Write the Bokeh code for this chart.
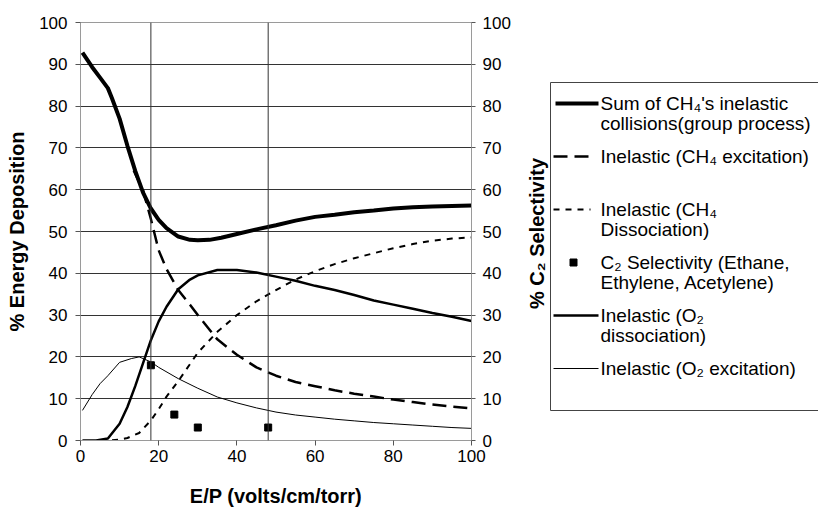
import math
from bokeh.plotting import figure
from bokeh.models import LinearAxis, FixedTicker, Range1d, Span
from bokeh.layouts import row
from bokeh.core.properties import value
from bokeh.embed import file_html
from bokeh.resources import INLINE

FONT = "Liberation Sans"

# ---------------- data ----------------
sum_x = [0.5, 3, 5, 7, 8, 10, 12, 14, 16, 18, 20, 22, 25, 28, 30, 33, 36, 40, 45, 50,
         55, 60, 65, 70, 75, 80, 85, 90, 95, 100]
sum_y = [92.8, 89.3, 86.8, 84.3, 82.0, 77.0, 70.5, 64.5, 59.3, 55.5, 52.8, 50.8, 48.8, 48.0,
         47.9, 48.0, 48.5, 49.4, 50.5, 51.5, 52.6, 53.5, 54.0, 54.6, 55.0, 55.5, 55.8, 56.0,
         56.1, 56.2]

ch4_exc_x = [13.6, 16, 18, 20, 22, 25, 28, 30, 35, 40, 45, 50, 55, 60, 65, 70, 75, 80, 85,
             90, 95, 100]
ch4_exc_y = [64.6, 59.8, 53.0, 45.5, 41.0, 36.0, 32.5, 30.0, 24.2, 20.5, 17.5, 15.5, 14.0,
             13.0, 12.0, 11.2, 10.5, 9.8, 9.2, 8.6, 8.1, 7.7]

ch4_dis_x = [5, 7, 10, 12, 15, 18, 20, 22, 25, 30, 35, 40, 45, 50, 55, 60, 65, 70, 75, 80,
             85, 90, 95, 100]
ch4_dis_y = [0.0, 0.0, 0.2, 0.6, 1.8, 4.8, 7.5, 10.5, 14.2, 21.0, 26.0, 30.0, 33.3, 36.0,
             38.5, 40.5, 42.2, 43.6, 44.8, 46.0, 47.0, 47.8, 48.3, 48.6]

o2_dis_x = [0.5, 4, 7, 10, 12, 14, 16, 18, 20, 22, 25, 28, 30, 35, 40, 45, 50, 55, 60, 65,
            70, 75, 80, 85, 90, 95, 100]
o2_dis_y = [0.0, 0.0, 0.5, 4.0, 8.0, 13.0, 18.5, 24.0, 28.5, 32.0, 36.2, 38.5, 39.5, 40.8,
            40.8, 40.2, 39.2, 38.2, 37.0, 36.0, 34.8, 33.5, 32.5, 31.5, 30.5, 29.6, 28.6]

o2_exc_x = [0.5, 3, 5, 7, 10, 13, 15, 18, 20, 25, 30, 35, 40, 45, 50, 55, 60, 65, 70, 75,
            80, 85, 90, 95, 100]
o2_exc_y = [7.2, 11.0, 13.6, 15.5, 18.7, 19.6, 20.0, 18.8, 17.5, 14.8, 12.5, 10.4, 9.0, 7.8,
            6.8, 6.1, 5.6, 5.1, 4.7, 4.3, 4.0, 3.7, 3.4, 3.1, 2.9]

sel_x = [18, 24, 30, 48]
sel_y = [18.0, 6.2, 3.1, 3.1]

marker_lines = [18, 48]
x_ticks = [0, 20, 40, 60, 80, 100]
y_ticks = [0, 10, 20, 30, 40, 50, 60, 70, 80, 90, 100]
grid_ticks = [10, 20, 30, 40, 50, 60, 70, 80, 90]

x_title = "E/P (volts/cm/torr)"
y_title = "% Energy Deposition"
y2_title = "% C\u2082 Selectivity"

legend_rows = [
    ["Sum of CH\u2084's inelastic", "collisions(group process)"],
    ["Inelastic (CH\u2084 excitation)"],
    ["Inelastic (CH\u2084", "Dissociation)"],
    ["C\u2082 Selectivity (Ethane,", "Ethylene, Acetylene)"],
    ["Inelastic (O\u2082", "dissociation)"],
    ["Inelastic (O\u2082 excitation)"],
]

# ---------------- layout constants (page pixels) ----------------
W_MAIN, W_LEG, H = 520, 298, 509
FRAME_L, FRAME_R, FRAME_T, FRAME_B = 80, 471, 22, 440

# ---------------- main figure ----------------
p = figure(width=W_MAIN, height=H, x_range=Range1d(0, 100), y_range=Range1d(0, 100),
           output_backend="svg", toolbar_location=None,
           min_border_left=FRAME_L, min_border_right=W_MAIN - FRAME_R,
           min_border_top=FRAME_T, min_border_bottom=H - FRAME_B)
p.background_fill_color = "white"
p.border_fill_color = "white"
p.outline_line_color = "#9a9a9a"
p.xgrid.visible = False
p.ygrid.ticker = FixedTicker(ticks=grid_ticks)
p.ygrid.grid_line_color = "#333333"
p.ygrid.grid_line_width = 1


def style_axis(ax, ticks):
    ax.ticker = FixedTicker(ticks=ticks)
    ax.axis_line_color = "#9a9a9a"
    ax.major_tick_line_color = "#555555"
    ax.major_tick_in = 0
    ax.major_tick_out = 5
    ax.minor_tick_line_color = None
    ax.major_label_text_font = FONT
    ax.major_label_text_font_size = "17px"
    ax.major_label_text_color = "black"
    ax.axis_label_text_font = FONT
    ax.axis_label_text_font_size = "20px"
    ax.axis_label_text_font_style = "bold"
    ax.axis_label_text_color = "black"


style_axis(p.xaxis[0], x_ticks)
p.xaxis[0].axis_label = x_title
p.xaxis[0].major_label_standoff = 4
p.xaxis[0].axis_label_standoff = 20

style_axis(p.yaxis[0], y_ticks)
p.yaxis[0].axis_label = y_title
p.yaxis[0].major_label_standoff = 8
p.yaxis[0].axis_label_standoff = 8

ry = LinearAxis()
style_axis(ry, y_ticks)
ry.major_tick_out = 4
ry.major_label_standoff = 7
p.add_layout(ry, "right")

for xv in marker_lines:
    p.add_layout(Span(location=xv, dimension="height", line_color="#333333", line_width=1))

p.line(o2_exc_x, o2_exc_y, line_color="black", line_width=1)
p.line(o2_dis_x, o2_dis_y, line_color="black", line_width=2.5)
p.line(ch4_dis_x, ch4_dis_y, line_color="black", line_width=2, line_dash="6 6")
p.line(ch4_exc_x, ch4_exc_y, line_color="black", line_width=2.5, line_dash="14 7")
p.line(sum_x, sum_y, line_color="black", line_width=4)
p.scatter(sel_x, sel_y, marker="square", size=7, fill_color="black", line_color="black")

# ---------------- side panel: right-axis title + legend (page pixel coordinates) ----------------
# same top/bottom borders as the main figure, so the row keeps both frames aligned
lg = figure(width=W_LEG, height=H, x_range=Range1d(W_MAIN, W_MAIN + W_LEG),
            y_range=Range1d(FRAME_B, FRAME_T),
            output_backend="svg", toolbar_location=None,
            x_axis_type=None, y_axis_type=None,
            min_border_left=0, min_border_right=0,
            min_border_top=FRAME_T, min_border_bottom=H - FRAME_B)
lg.grid.visible = False
lg.outline_line_color = None
lg.background_fill_color = "white"
lg.border_fill_color = "white"

# right axis title
lg.text(x=[536], y=[(FRAME_T + FRAME_B) / 2 + 2], text=[y2_title], angle=math.pi / 2,
        text_font=value(FONT), text_font_size="20px", text_font_style="bold",
        text_align="center", text_baseline="middle", text_color="black")

# legend box (its right edge lies beyond the picture, as in the reference)
box_l, box_t, box_b, box_r = 550, 82, 410, 830
lg.segment(x0=[box_l, box_l, box_l], y0=[box_t, box_t, box_b],
           x1=[box_l, box_r, box_r], y1=[box_b, box_t, box_b],
           line_color="#444444", line_width=1)

first_y, entry_step, line_step = 103, 53, 20
tx, ty, sample_y = [], [], []
for i, lines in enumerate(legend_rows):
    y0 = first_y + i * entry_step
    sample_y.append(y0)
    for j, t in enumerate(lines):
        tx.append(t)
        ty.append(y0 + j * line_step)
lg.text(x=[600] * len(tx), y=ty, text=tx, text_font=value(FONT), text_font_size="19px",
        text_baseline="middle", text_align="left", text_color="black")

lg.line([555, 598], [sample_y[0]] * 2, line_color="black", line_width=4)
lg.line([553, 594], [sample_y[1]] * 2, line_color="black", line_width=2.5, line_dash="14 7")
lg.line([553, 590], [sample_y[2]] * 2, line_color="black", line_width=2, line_dash="6 6")
lg.scatter([573], [sample_y[3]], marker="square", size=7, fill_color="black", line_color="black")
lg.line([553, 598], [sample_y[4]] * 2, line_color="black", line_width=2.5)
lg.line([553, 598], [sample_y[5]] * 2, line_color="black", line_width=1)

layout = row(p, lg)
open("out.html", "w").write(file_html(layout, INLINE))
